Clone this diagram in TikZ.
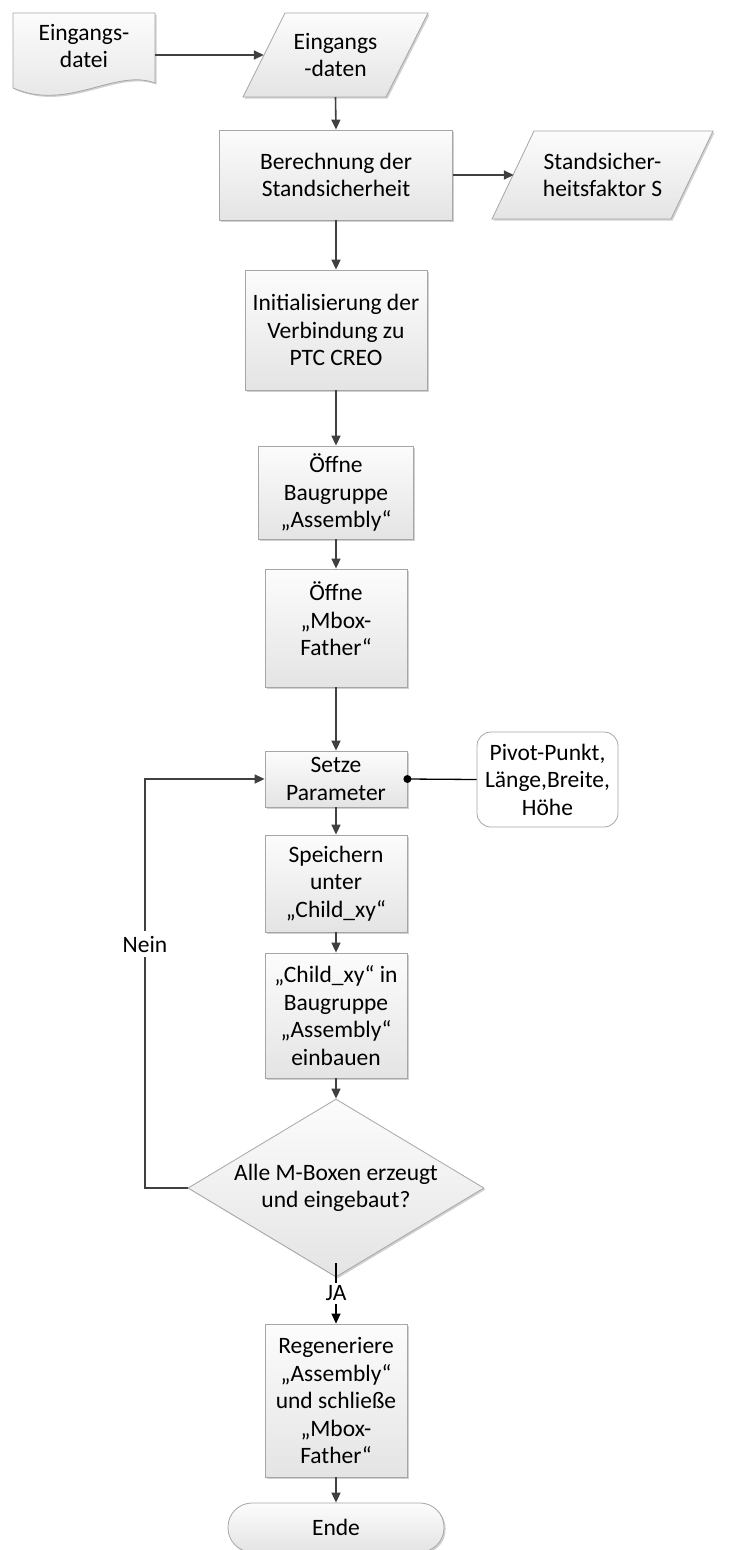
\documentclass[tikz,border=0pt]{standalone}
\usepackage{fontspec}
\setmainfont{Carlito}
\usetikzlibrary{arrows.meta,shapes.geometric,shadows,calc}

\definecolor{edgegray}{HTML}{A6A6A6}
\definecolor{flowgray}{HTML}{404040}
\definecolor{filltop}{HTML}{FCFCFC}
\definecolor{fillbottom}{HTML}{E4E4E4}

\begin{document}
\begin{tikzpicture}[x=1pt,y=-1pt,
  font=\fontsize{23.5}{27.5}\selectfont,
  softshadow/.style={drop shadow={shadow xshift=1.6pt,shadow yshift=-1.6pt,fill=black!40,opacity=0.45}},
  shapefill/.style={draw=edgegray,line width=0.8pt,top color=filltop,bottom color=fillbottom,softshadow},
  procbox/.style={shapefill,rectangle,align=center,inner sep=0pt},
  textonly/.style={align=center,inner sep=0pt},
  flowarrow/.style={draw=flowgray,line width=1.6pt,-{Triangle[length=10pt,width=9pt]}},
  flowline/.style={draw=flowgray,line width=1.6pt}]

\useasboundingbox (0,0) rectangle (731,1550);

% --- input file (document shape) and input data (parallelogram)
\path[shapefill] (13,13) -- (155,13) -- (155,83)
  .. controls (115,68) and (68,112) .. (13,88) -- cycle;
\node[textonly,minimum width=142,minimum height=84,
  label={[align=center,yshift=9pt]center:Eingangs-\\datei}] (datei) at (84,55) {};

\path[shapefill] (285,13) -- (428,13) -- (386,97) -- (243,97) -- cycle;
\node[textonly,minimum width=185,minimum height=84] (daten) at (335.5,55) {Eingangs\\-daten};

% --- computation and its output
\node[procbox,minimum width=233,minimum height=90] (ber) at (336,175)
  {Berechnung der\\Standsicherheit};

\path[shapefill] (534,131) -- (713,131) -- (671,219) -- (492,219) -- cycle;
\node[textonly,minimum width=221,minimum height=88] (sf) at (602.5,175)
  {Standsicher-\\heitsfaktor S};

% --- main process column
\node[procbox,minimum width=182,minimum height=120] (init) at (336,330)
  {Initialisierung der\\Verbindung zu\\PTC CREO};
\node[procbox,minimum width=155,minimum height=93] (oeff1) at (336,492.5)
  {Öffne\\Baugruppe\\„Assembly“};
\node[procbox,minimum width=142,minimum height=118,
  label={[align=center,yshift=9pt]center:Öffne\\„Mbox-\\Father“}] (oeff2) at (336,628) {};
\node[procbox,minimum width=142,minimum height=56] (setze) at (336,779)
  {Setze\\Parameter};
\node[draw=edgegray,line width=0.8pt,fill=white,rounded corners=14pt,
  align=center,inner sep=0pt,minimum width=141,minimum height=95] (pivot) at (547.5,779.5)
  {Pivot-Punkt,\\Länge,Breite,\\Höhe};
\node[procbox,minimum width=142,minimum height=97] (speich) at (336,883.5)
  {Speichern\\unter\\„Child\_xy“};
\node[procbox,minimum width=142,minimum height=125] (child) at (336,1015.5)
  {„Child\_xy“ in\\Baugruppe\\„Assembly“\\einbauen};
\node[shapefill,diamond,aspect=1.663,align=center,inner sep=0pt,
  minimum width=296,minimum height=178] (dia) at (336,1188)
  {Alle M-Boxen erzeugt\\und eingebaut?};
\node[procbox,minimum width=142,minimum height=153] (regen) at (336,1400.5)
  {Regeneriere\\„Assembly“\\und schließe\\„Mbox-\\Father“};
\node[shapefill,rectangle,rounded corners=24pt,inner sep=0pt,
  minimum width=216,minimum height=49] (ende) at (336,1527.5) {Ende};

% --- connectors
\draw[flowarrow] (datei.east) -- ([xshift=21pt]daten.west);
\draw[flowarrow] (daten.south) -- (ber.north);
\draw[flowarrow] (ber.east) -- ([xshift=22pt]sf.west);
\draw[flowarrow] (ber.south) -- (init.north);
\draw[flowarrow] (init.south) -- (oeff1.north);
\draw[flowarrow] (oeff1.south) -- (oeff2.north);
\draw[flowarrow] (oeff2.south) -- (setze.north);
\draw[flowarrow] (setze.south) -- (speich.north);
\draw[flowarrow] (speich.south) -- (child.north);
\draw[flowarrow] (child.south) -- (dia.north);
\draw[flowarrow] (regen.south) -- (ende.north);

% parameters attached to the set step
\draw[black,line width=1.3pt] (setze.east) -- (pivot.west);
\fill[black] (setze.east) circle[radius=4pt];

% loop back when not all boxes are built
\coordinate (nein) at (145,944);
\draw[flowarrow] (dia.west) -| (nein) |- (setze.west);
\node[fill=white,inner xsep=2pt,inner ysep=5pt] at (nein) {Nein};

% exit when done
\draw[black,line width=1.3pt,-{Triangle[length=10pt,width=9pt]}]
  ([yshift=14pt]dia.south) -- node[fill=white,inner xsep=1pt,inner ysep=3pt] {JA} (regen.north);

\end{tikzpicture}
\end{document}
